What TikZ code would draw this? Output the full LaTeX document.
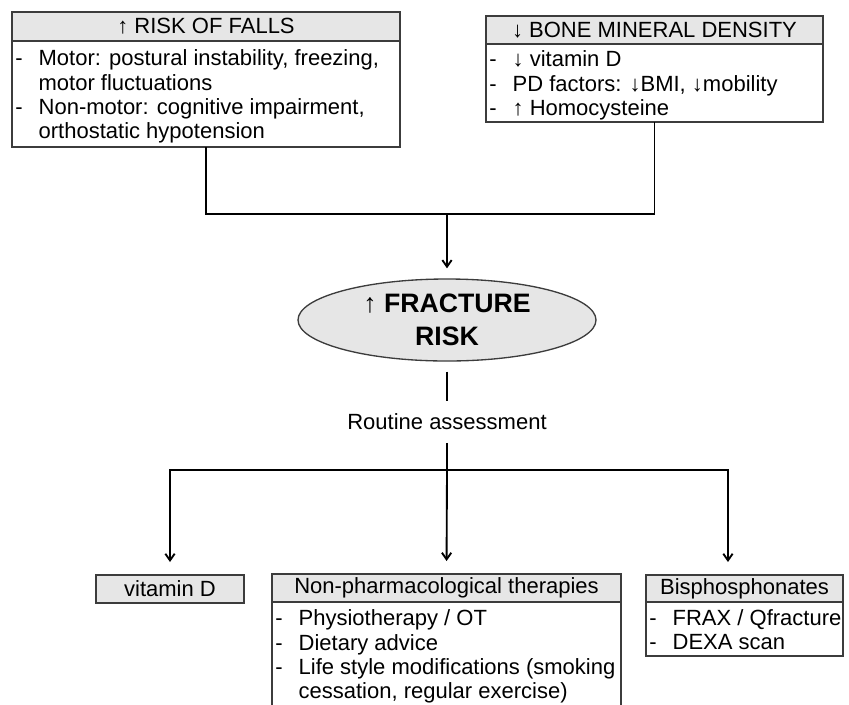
\documentclass[tikz,border=0pt]{standalone}
\usepackage{fontspec}
\setmainfont{Liberation Sans}
\usetikzlibrary{shapes.geometric, positioning, arrows.meta}
\definecolor{boxline}{RGB}{60, 60, 60}
\definecolor{boxfill}{RGB}{230, 230, 230}
\newcommand{\dashlist}[2]{\raisebox{-2.5pt}[\height][\depth]{\makebox[#1][l]{\begin{tabular}{@{\hspace{2.5pt}}p{17.5pt}@{}l@{}}#2\end{tabular}}}}

\begin{document}
\begin{tikzpicture}[x=0.75pt, y=-0.75pt, >={Straight Barb[length=5pt, width=7pt]},
    every node/.style={font=\fontsize{16.5}{18.3}\selectfont},
    hdr/.style={draw=boxline, fill=boxfill, line width=1pt, inner sep=0pt, outer sep=0pt, align=center},
    lst/.style={draw=boxline, line width=1pt, inner sep=0pt, outer sep=0pt},
    conn/.style={line width=1.4pt}]
    \useasboundingbox (0,0) rectangle (849,704);
    % causes
    \node[hdr, anchor=north west, minimum width=291pt, minimum height=21.75pt] (fallshdr) at (12,12) {↑ RISK OF FALLS};
    \node[lst, below=0pt of fallshdr, minimum height=79.5pt] (falls) {\dashlist{291pt}{- & Motor: postural instability, freezing,\\ & motor fluctuations\\ - & Non-motor: cognitive impairment,\\ & orthostatic hypotension}};
    \node[hdr, anchor=north west, minimum width=252.75pt, minimum height=21pt] (bmdhdr) at (486,16) {↓ BONE MINERAL DENSITY};
    \node[lst, below=0pt of bmdhdr, minimum height=58.5pt] (bmd) {\dashlist{252.75pt}{- & ↓ vitamin D\\ - & PD factors: ↓BMI, ↓mobility\\ - & ↑ Homocysteine}};
    % centre
    \node[ellipse, draw=boxline, fill=boxfill, line width=1pt, minimum width=223.5pt, minimum height=61.5pt, inner sep=0pt, align=center, font=\fontsize{20}{25}\selectfont\bfseries] (risk) at (447,320) {{\mdseries ↑} FRACTURE\\RISK};
    \node[minimum height=30.75pt, inner sep=0pt] (assess) at (447,422) {Routine assessment};
    \coordinate (join) at (447,214);
    \coordinate (split) at (447,470);
    % management
    \node[hdr, anchor=north west, minimum width=111pt, minimum height=21pt] (vitd) at (96,575) {vitamin D};
    \node[hdr, anchor=north west, minimum width=261.75pt, minimum height=21pt] (nonpharmhdr) at (272,574) {Non-pharmacological therapies};
    \node[lst, below=0pt of nonpharmhdr, minimum height=78pt] (nonpharm) {\dashlist{261.75pt}{- & Physiotherapy / OT\\ - & Dietary advice\\ - & Life style modifications (smoking\\ & cessation, regular exercise)}};
    \node[hdr, anchor=north west, minimum width=147.75pt, minimum height=20.25pt] (bisphhdr) at (646,575) {Bisphosphonates};
    \node[lst, below=0pt of bisphhdr, minimum height=40.5pt] (bisph) {\dashlist{147.75pt}{- & FRAX / Qfracture\\ - & DEXA scan}};

    \draw[conn] (falls.south) |- (join) -| (bmd.south);
    \draw[conn, ->, shorten >=7.5pt] (join) -- (risk.north);
    \draw[conn, shorten <=7.5pt] (risk.south) -- (assess.north);
    \draw[conn] (assess.south) -- (split);
    \draw[conn, ->, shorten >=9.75pt] (split) -| (vitd.north);
    \draw[conn, ->, shorten >=9.75pt] (split) -- (nonpharmhdr.north);
    \draw[conn, ->, shorten >=9.75pt] (split) -| ([xshift=-12.4pt]bisphhdr.north);
\end{tikzpicture}
\end{document}
